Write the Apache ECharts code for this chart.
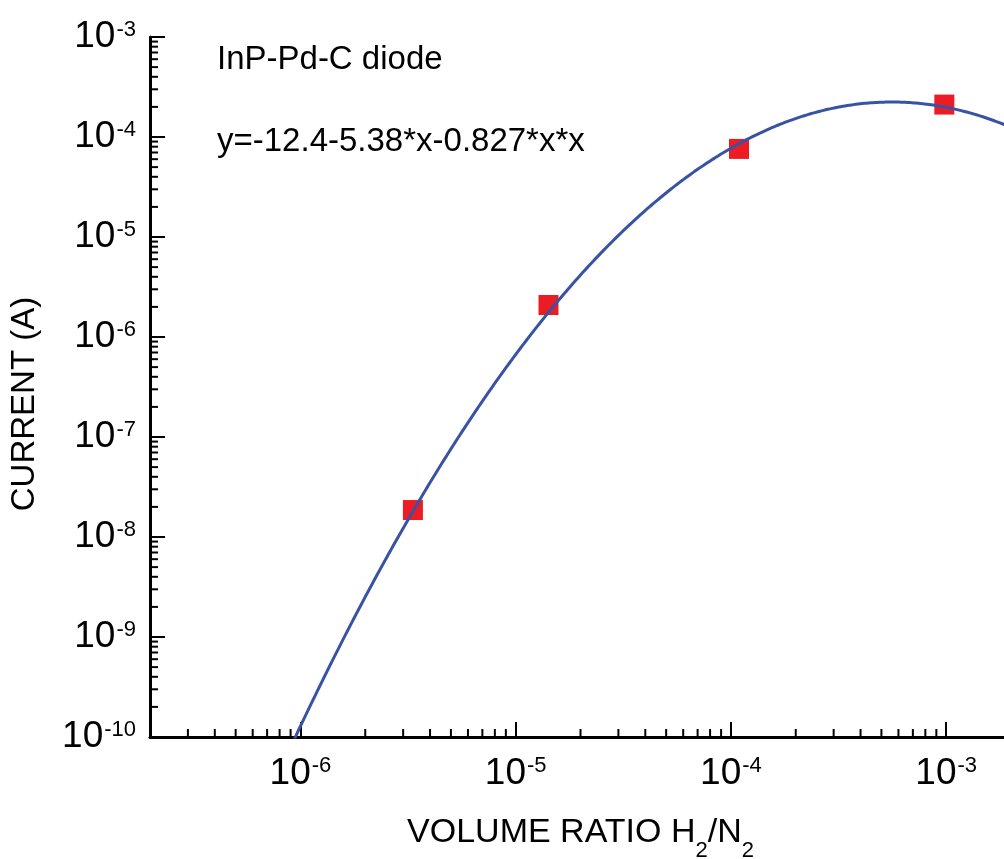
<!DOCTYPE html>
<html>
<head>
<meta charset="utf-8">
<title>InP-Pd-C diode current vs H2/N2 volume ratio</title>
<script src="https://cdn.jsdelivr.net/npm/echarts@6/dist/echarts.min.js"></script>
<style>
  html, body { margin: 0; padding: 0; background: #ffffff; }
  #chart { width: 1004px; height: 859px; }
</style>
</head>
<body>
<div id="chart"></div>
<script>
// Measured points: H2/N2 volume ratio and diode current (A)
const ratioValues = [3.33e-6, 1.42e-5, 1.09e-4, 9.8e-4];
const currentValues = [1.86e-8, 2.09e-6, 7.6e-5, 2.11e-4];

// Quadratic fit in log-log space: log10(I) = c0 + c1*x + c2*x*x, x = log10(ratio)
const fitCoeffs = [-12.4, -5.38, -0.827];
const fitLabel = 'y=-12.4-5.38*x-0.827*x*x';
const sampleLabel = 'InP-Pd-C diode';

// Axis ranges and labelled decades
const xRange = [2e-7, 2e-3];
const yRange = [1e-10, 1e-3];
const xTickExponents = [-6, -5, -4, -3];
const yTickExponents = [-10, -9, -8, -7, -6, -5, -4, -3];

const FONT = "'Liberation Sans', Arial, Helvetica, sans-serif";
const BLUE = '#3953a4';
const RED = '#ed1c24';

// Fit curve evaluated from the stated coefficients
const fitCurve = [];
for (let lx = -6.1; lx <= -2.6; lx += 0.01) {
  const ly = fitCoeffs[0] + fitCoeffs[1] * lx + fitCoeffs[2] * lx * lx;
  fitCurve.push([Math.pow(10, lx), Math.pow(10, ly)]);
}

// Minor ticks (2..9 x 10^k) inside each decade of both axes
function minorValues(range) {
  const out = [];
  const k0 = Math.floor(Math.log10(range[0]));
  const k1 = Math.ceil(Math.log10(range[1]));
  for (let k = k0; k <= k1; k++) {
    for (let m = 2; m <= 9; m++) {
      const v = m * Math.pow(10, k);
      if (v > range[0] * 1.0001 && v < range[1] * 0.9999) out.push(v);
    }
  }
  return out;
}
const xMinor = minorValues(xRange).map(v => [v, yRange[0]]);
const yMinor = minorValues(yRange).map(v => [xRange[0], v]);

function decadeLabel(exps) {
  return function (value) {
    const e = Math.log10(value);
    const r = Math.round(e);
    if (Math.abs(e - r) > 1e-6 || exps.indexOf(r) < 0) return '';
    return '{b|10}{s|' + r + '}';
  };
}

const labelRich = {
  b: { fontSize: 37, fontFamily: FONT, color: '#000', lineHeight: 37 },
  s: { fontSize: 22, fontFamily: FONT, color: '#000', verticalAlign: 'top', lineHeight: 37, padding: [0, 0, 0, 1] }
};

const chart = echarts.init(document.getElementById('chart'), null, { renderer: 'canvas' });

chart.setOption({
  animation: false,
  backgroundColor: '#ffffff',
  grid: { left: 150, top: 37, right: -7, bottom: 122, containLabel: false, outerBoundsMode: 'none' },
  xAxis: {
    type: 'log',
    logBase: 10,
    min: xRange[0],
    max: xRange[1],
    name: '{t|VOLUME RATIO H}{u|2}{t|/N}{u|2}',
    nameLocation: 'middle',
    nameGap: 78,
    nameTextStyle: {
      rich: {
        t: { fontSize: 34, fontFamily: FONT, color: '#000', lineHeight: 35 },
        u: { fontSize: 22, fontFamily: FONT, color: '#000', verticalAlign: 'bottom', lineHeight: 35, padding: [0, 0, -12, 0] }
      }
    },
    axisLine: { show: true, onZero: false, lineStyle: { color: '#000', width: 3 } },
    axisTick: { show: true, inside: true, length: 15, lineStyle: { color: '#000', width: 2 } },
    minorTick: { show: false },
    splitLine: { show: false },
    axisLabel: {
      margin: 18,
      formatter: decadeLabel(xTickExponents),
      rich: labelRich,
      showMinLabel: true,
      showMaxLabel: true
    }
  },
  yAxis: {
    type: 'log',
    logBase: 10,
    min: yRange[0],
    max: yRange[1],
    axisLine: { show: true, onZero: false, lineStyle: { color: '#000', width: 3 } },
    axisTick: { show: true, inside: true, length: 15, lineStyle: { color: '#000', width: 2 } },
    minorTick: { show: false },
    splitLine: { show: false },
    axisLabel: {
      margin: 14,
      formatter: decadeLabel(yTickExponents),
      rich: labelRich
    }
  },
  graphic: [
    {
      type: 'text',
      x: 25, y: 404,
      rotation: Math.PI / 2,
      style: { text: 'CURRENT (A)', font: '33px ' + FONT, fill: '#000', align: 'center', verticalAlign: 'middle' }
    },
    {
      type: 'text',
      x: 217, y: 60,
      style: { text: sampleLabel, font: '33px ' + FONT, fill: '#000', align: 'left', verticalAlign: 'middle' }
    },
    {
      type: 'text',
      x: 217, y: 142,
      style: { text: fitLabel, font: '33px ' + FONT, fill: '#000', align: 'left', verticalAlign: 'middle' }
    }
  ],
  series: [
    {
      name: 'xMinorTicks',
      type: 'custom',
      silent: true,
      clip: false,
      data: xMinor,
      renderItem: function (params, api) {
        const p = api.coord([api.value(0), api.value(1)]);
        return { type: 'line', shape: { x1: p[0], y1: p[1], x2: p[0], y2: p[1] - 8 }, style: { stroke: '#000', lineWidth: 2 } };
      },
      z: 1
    },
    {
      name: 'yMinorTicks',
      type: 'custom',
      silent: true,
      clip: false,
      data: yMinor,
      renderItem: function (params, api) {
        const p = api.coord([api.value(0), api.value(1)]);
        return { type: 'line', shape: { x1: p[0], y1: p[1], x2: p[0] + 8, y2: p[1] }, style: { stroke: '#000', lineWidth: 2 } };
      },
      z: 1
    },
    {
      name: 'fit',
      type: 'line',
      data: fitCurve,
      showSymbol: false,
      symbol: 'none',
      smooth: false,
      clip: true,
      lineStyle: { color: BLUE, width: 3 },
      z: 3
    },
    {
      name: 'measured',
      type: 'scatter',
      data: ratioValues.map((r, i) => [r, currentValues[i]]),
      symbol: 'rect',
      symbolSize: 20,
      itemStyle: { color: RED, opacity: 1 },
      z: 2
    }
  ]
});
</script>
</body>
</html>
